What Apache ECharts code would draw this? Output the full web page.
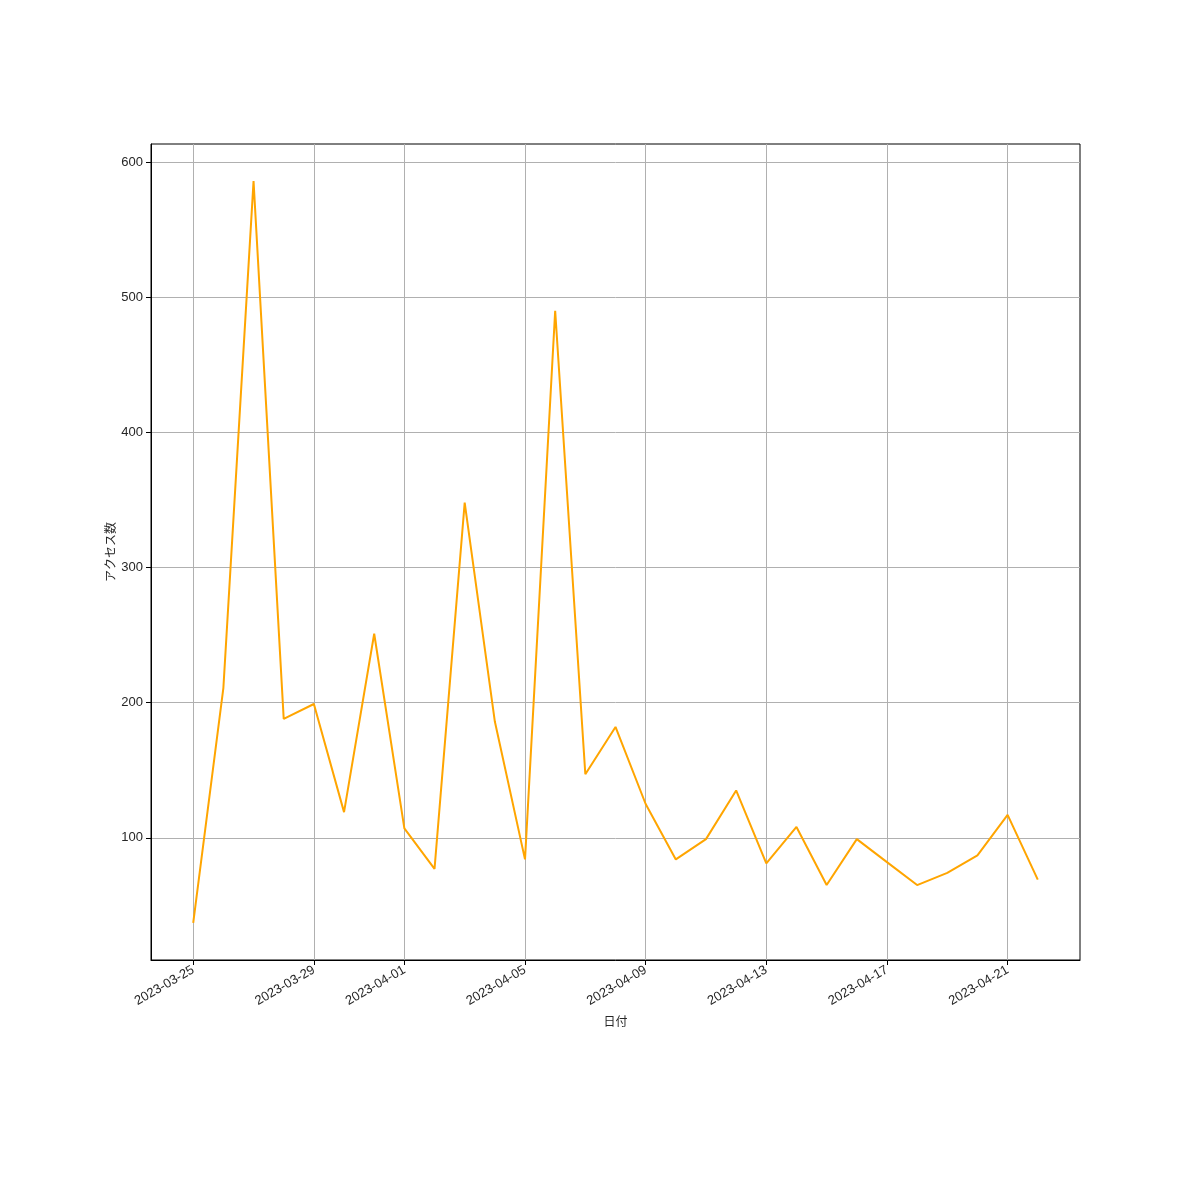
<!DOCTYPE html>
<html>
<head>
<meta charset="utf-8">
<script src="https://cdn.jsdelivr.net/npm/echarts@6/dist/echarts.min.js"></script>
<style>
    html, body { margin: 0; padding: 0; background: #fff; }
    #chart { width: 1200px; height: 1200px; }
</style>
</head>
<body>
<div id="chart"></div>
<script>
// daily access counts
const dates = [
    '2023-03-25', '2023-03-26', '2023-03-27', '2023-03-28', '2023-03-29', '2023-03-30', '2023-03-31',
    '2023-04-01', '2023-04-02', '2023-04-03', '2023-04-04', '2023-04-05', '2023-04-06', '2023-04-07',
    '2023-04-08', '2023-04-09', '2023-04-10', '2023-04-11', '2023-04-12', '2023-04-13', '2023-04-14',
    '2023-04-15', '2023-04-16', '2023-04-17', '2023-04-18', '2023-04-19', '2023-04-20', '2023-04-21',
    '2023-04-22'
]
const access = [
    37, 211, 586, 188, 199, 119, 251,
    107, 77, 348, 186, 84, 490, 147,
    182, 125, 84, 99, 135, 81, 108,
    65, 99, 82, 65, 74, 87, 117,
    69
]
const tickDates = ['2023-03-25', '2023-03-29', '2023-04-01', '2023-04-05', '2023-04-09', '2023-04-13', '2023-04-17', '2023-04-21']
const yTicks = [100, 200, 300, 400, 500, 600]

const font = '"Noto Sans CJK JP", "Noto Sans", sans-serif'
const tickFont = '"Liberation Sans", "Noto Sans CJK JP", sans-serif'
const textColor = '#262626'

// matplotlib style 5% margins
const xSpan = dates.length - 1
const yLo = Math.min(...access)
const yHi = Math.max(...access)
const ySpan = yHi - yLo
const tickIdx = tickDates.map(d => dates.indexOf(d))

let myChart = echarts.init(document.getElementById('chart'))
let option = {
    animation: false,
    grid: {
        left: 151,
        right: 120,
        top: 144,
        bottom: 240,
        show: true,
        borderColor: '#000',
        borderWidth: 1,
        backgroundColor: 'transparent'
    },
    xAxis: {
        type: 'value',
        min: -0.05 * xSpan,
        max: xSpan + 0.05 * xSpan,
        name: '日付',
        nameLocation: 'middle',
        nameGap: 55,
        nameMoveOverlap: false,
        nameTextStyle: { fontFamily: font, fontSize: 12, color: textColor },
        axisLine: { show: true, onZero: false, lineStyle: { color: '#000', width: 1 } },
        axisTick: { show: true, inside: false, length: 5, customValues: tickIdx, lineStyle: { color: '#000', width: 1 } },
        axisLabel: {
            customValues: tickIdx,
            rotate: 30,
            margin: 9,
            fontFamily: tickFont,
            fontSize: 13,
            color: textColor,
            formatter: v => dates[Math.round(v)] || ''
        },
        splitLine: { show: true, lineStyle: { color: '#b0b0b0', width: 1 } }
    },
    yAxis: {
        type: 'value',
        min: yLo - 0.05 * ySpan,
        max: yHi + 0.05 * ySpan,
        name: 'アクセス数',
        nameLocation: 'middle',
        nameRotate: 90,
        nameGap: 35,
        nameMoveOverlap: false,
        nameTextStyle: { fontFamily: font, fontSize: 12, color: textColor },
        axisLine: { show: true, onZero: false, lineStyle: { color: '#000', width: 1 } },
        axisTick: { show: true, inside: false, length: 5, customValues: yTicks, lineStyle: { color: '#000', width: 1 } },
        axisLabel: {
            customValues: yTicks,
            margin: 8,
            fontFamily: tickFont,
            fontSize: 13,
            color: textColor
        },
        splitLine: { show: true, lineStyle: { color: '#b0b0b0', width: 1 } }
    },
    series: [{
        type: 'line',
        data: access.map((v, i) => [i, v]),
        showSymbol: false,
        symbol: 'none',
        lineStyle: { color: '#FFA500', width: 2 },
        itemStyle: { color: '#FFA500' }
    }]
}

myChart.setOption(option)
</script>
</body>
</html>
